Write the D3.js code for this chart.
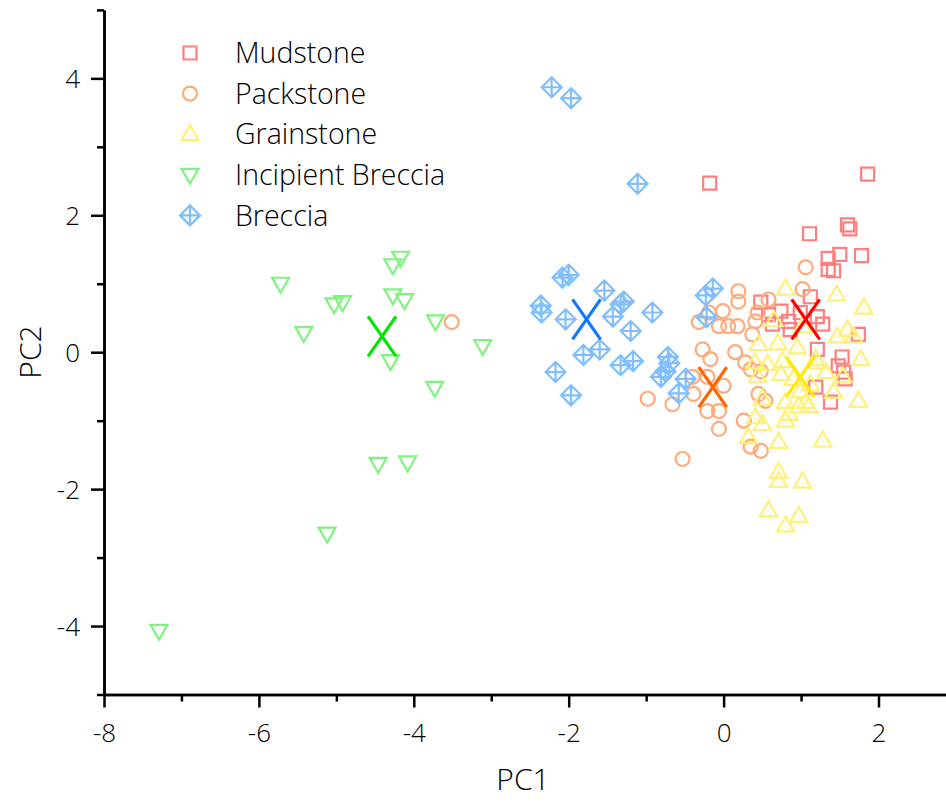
<!DOCTYPE html>
<html><head><meta charset="utf-8">
<script src="https://cdn.jsdelivr.net/npm/d3@7"></script>
<style>body{margin:0;background:#fff}svg{display:block}text{font-family:"Open Sans",Lato,sans-serif;font-weight:300;fill:#000}</style>
</head><body>
<svg id="c" width="946" height="804"></svg>
<script>
// ---- data (PC1, PC2) ----
const categories = ["Mudstone","Packstone","Grainstone","Incipient Breccia","Breccia"];
const mudstone = [[-0.18,2.47],[1.86,2.60],[1.60,1.86],[1.63,1.80],[1.11,1.73],[1.35,1.37],[1.50,1.43],[1.78,1.41],[1.42,1.19],[1.35,1.21],[0.48,0.73],[1.12,0.81],[0.74,0.60],[0.58,0.55],[0.84,0.45],[1.21,0.52],[1.28,0.41],[1.74,0.26],[1.21,0.04],[1.53,-0.07],[1.48,-0.20],[1.57,-0.39],[1.38,-0.73],[0.99,0.58],[0.63,0.41],[0.86,0.33],[1.19,-0.51],[1.55,-0.29]];
const packstone = [[-3.51,0.44],[1.06,1.24],[1.02,0.92],[0.58,0.77],[0.19,0.89],[0.19,0.74],[-0.01,0.60],[-0.19,0.58],[-0.32,0.44],[-0.06,0.38],[0.06,0.38],[0.18,0.38],[0.44,0.58],[0.41,0.45],[0.37,0.26],[-0.27,0.04],[-0.17,-0.10],[0.15,0.00],[0.28,-0.15],[0.35,-0.25],[0.48,-0.28],[-0.98,-0.68],[-0.66,-0.76],[-0.39,-0.61],[-0.40,-0.36],[-0.21,-0.36],[0.00,-0.49],[-0.21,-0.86],[-0.06,-0.86],[-0.06,-1.12],[0.26,-1.00],[0.45,-0.61],[0.54,-0.71],[0.35,-1.38],[0.48,-1.44],[-0.53,-1.56]];
const grainstone = [[0.80,0.93],[1.46,0.84],[1.81,0.65],[0.65,0.47],[1.02,0.38],[1.60,0.33],[1.47,0.23],[1.68,0.23],[0.45,0.12],[0.70,0.13],[0.95,0.07],[1.19,-0.10],[0.41,-0.15],[0.57,-0.17],[0.76,-0.13],[1.77,-0.10],[0.44,-0.35],[0.74,-0.32],[0.90,-0.39],[1.32,-0.29],[1.54,-0.35],[1.21,-0.15],[1.42,-0.58],[1.74,-0.71],[0.50,-0.68],[0.80,-0.73],[0.97,-0.79],[1.10,-0.79],[0.84,-0.90],[0.41,-0.95],[0.50,-1.05],[0.80,-1.00],[0.32,-1.24],[0.71,-1.31],[1.28,-1.29],[0.71,-1.75],[0.71,-1.88],[1.02,-1.89],[0.58,-2.31],[0.97,-2.39],[0.80,-2.53],[1.06,-0.73],[0.99,-0.57],[1.12,-0.47]];
const incipientBreccia = [[-5.72,1.00],[-5.42,0.28],[-5.03,0.70],[-4.92,0.73],[-4.27,1.27],[-4.17,1.38],[-4.27,0.83],[-4.12,0.76],[-3.72,0.45],[-4.30,-0.13],[-3.73,-0.52],[-3.11,0.09],[-4.46,-1.63],[-4.08,-1.61],[-5.12,-2.65],[-7.29,-4.07]];
const breccia = [[-2.22,3.87],[-1.97,3.71],[-1.11,2.46],[-1.54,0.90],[-2.08,1.09],[-2.00,1.13],[-2.36,0.68],[-2.35,0.58],[-2.04,0.48],[-1.29,0.74],[-1.33,0.70],[-1.43,0.52],[-0.92,0.58],[-1.20,0.31],[-1.81,-0.04],[-1.60,0.04],[-2.17,-0.29],[-1.97,-0.63],[-1.33,-0.19],[-1.17,-0.13],[-0.72,-0.07],[-0.70,-0.16],[-0.81,-0.36],[-0.75,-0.28],[-0.49,-0.39],[-0.58,-0.60],[-0.23,0.83],[-0.14,0.93],[-0.22,0.51]];
const centroids = [[1.06,0.48],[-0.14,-0.51],[0.99,-0.36],[-4.41,0.23],[-1.77,0.48]];
const xMajorTicks = [-8,-6,-4,-2,0,2];
const xMinorTicks = [-7,-5,-3,-1,1,3];
const yMajorTicks = [-4,-2,0,2,4];
const yMinorTicks = [-5,-3,-1,1,3,5];

const seriesData = [mudstone, packstone, grainstone, incipientBreccia, breccia];
const markerColors = ["#ff7f7f","#ffaa7a","#fff07a","#7ff27f","#7fbfff"];
const centroidColors = ["#ff0000","#ff6600","#ffea00","#00e600","#1478ff"];
const shapes = ["square","circle","triUp","triDown","diamond"];

const svg = d3.select("#c");
const x = d3.scaleLinear().domain([-8,3]).range([104, 104+11*77.45]);
const y = d3.scaleLinear().domain([-5,5]).range([694.5, 9.9]);

function markerPath(s){
  switch(s){
    case "square": return "M-6.5,-6.5H6.5V6.5H-6.5Z";
    case "circle": return "M7,0A7,7 0 1,1 -7,0A7,7 0 1,1 7,0Z";
    case "triUp": return "M0,-9L8.5,6L-8.5,6Z M0,0.6L0,1.4";
    case "triDown": return "M0,9L8.5,-6L-8.5,-6Z";
    case "diamond": return "M0,-10L10,0L0,10L-10,0Z M0,-10V10 M-10,0H10";
  }
}

// points
const gPts = svg.append("g");
seriesData.forEach((data,i)=>{
  gPts.append("g").selectAll("path").data(data).join("path")
    .attr("d", markerPath(shapes[i]))
    .attr("transform", d=>`translate(${x(d[0])},${y(d[1])})`)
    .attr("fill","none").attr("stroke",markerColors[i]).attr("stroke-width",2.2);
});
// centroid X
svg.append("g").selectAll("path").data(centroids).join("path")
  .attr("d","M-14,-20L14,20M14,-20L-14,20")
  .attr("transform", d=>`translate(${x(d[0])},${y(d[1])})`)
  .attr("stroke",(d,i)=>centroidColors[i]).attr("stroke-width",3.2).attr("fill","none");

// axes
const fmt = d => String(d);
const ax = svg.append("g").attr("transform",`translate(0,${y(-5)})`);
ax.call(d3.axisBottom(x).tickValues(xMajorTicks).tickSize(13).tickSizeOuter(0).tickPadding(16).tickFormat(fmt));
const axm = svg.append("g").attr("transform",`translate(0,${y(-5)})`);
axm.call(d3.axisBottom(x).tickValues(xMinorTicks).tickSize(7).tickSizeOuter(0).tickFormat(""));
const ay = svg.append("g").attr("transform",`translate(${x(-8)},0)`);
ay.call(d3.axisLeft(y).tickValues(yMajorTicks).tickSize(13).tickSizeOuter(0).tickPadding(11).tickFormat(fmt));
const aym = svg.append("g").attr("transform",`translate(${x(-8)},0)`);
aym.call(d3.axisLeft(y).tickValues(yMinorTicks).tickSize(7).tickSizeOuter(0).tickFormat(""));
svg.selectAll(".domain").attr("stroke","#000").attr("stroke-width",2.5);
svg.selectAll(".tick line").attr("stroke","#000").attr("stroke-width",2.5);
svg.selectAll(".tick text").style("font-size","26px").attr("fill","#000").style("font-family","'Open Sans',Lato,sans-serif").style("font-weight","300");
ay.selectAll(".tick text").attr("dy","0.35em");

// axis titles
svg.append("text").attr("x",523).attr("y",790).attr("text-anchor","middle").style("font-size","30px").text("PC1");
svg.append("text").attr("transform","translate(41,352) rotate(-90)").attr("text-anchor","middle").style("font-size","30px").text("PC2");

// legend
const lg = svg.append("g");
categories.forEach((c,i)=>{
  const yy = 53 + i*40.6;
  lg.append("path").attr("d",markerPath(shapes[i])).attr("transform",`translate(190,${yy})`)
    .attr("fill","none").attr("stroke",markerColors[i]).attr("stroke-width",2.2);
  lg.append("text").attr("x",235).attr("y",yy).attr("dy","0.36em").style("font-size","28.5px").text(c);
});
</script>
</body></html>
